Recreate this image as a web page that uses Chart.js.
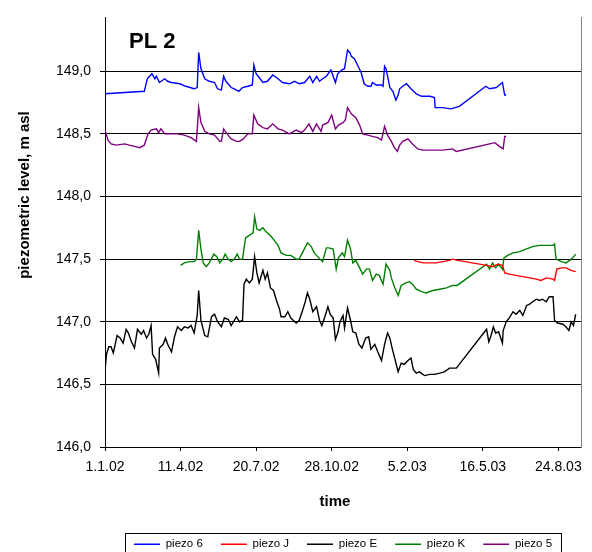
<!DOCTYPE html>
<html>
<head>
<meta charset="utf-8">
<script src="https://cdn.jsdelivr.net/npm/chart.js@4.4.1/dist/chart.umd.min.js"></script>
<style>
  html, body { margin: 0; padding: 0; background: #fff; overflow: hidden; }
  canvas { display: block; }
</style>
</head>
<body>
<canvas id="myChart" width="592" height="552"></canvas>
<script>
// days counted from 1.1.02
const tickLabels = ['1.1.02', '11.4.02', '20.7.02', '28.10.02', '5.2.03', '16.5.03', '24.8.03'];

const days6 = [0, 52, 56, 62, 66, 68, 72, 79, 83, 88, 99, 107, 118, 122, 124, 127, 132, 138, 145, 149, 154, 157, 160, 167, 171, 177, 182, 189, 195, 197, 200, 204, 209, 215, 222, 229, 235, 244, 251, 257, 264, 271, 275, 280, 284, 288, 293, 299, 305, 308, 313, 317, 321, 324, 326, 330, 335, 339, 343, 348, 352, 354, 359, 366, 368, 370, 372, 377, 381, 385, 388, 390, 394, 399, 405, 412, 419, 430, 436, 437, 447, 458, 469, 504, 509, 518, 522, 526, 529, 531];
const piezo6 = [148.82, 148.84, 148.94, 148.98, 148.94, 148.96, 148.91, 148.94, 148.92, 148.91, 148.90, 148.88, 148.86, 148.87, 149.15, 149.02, 148.94, 148.92, 148.91, 148.86, 148.85, 148.96, 148.92, 148.87, 148.86, 148.84, 148.87, 148.88, 148.89, 149.05, 148.98, 148.95, 148.91, 148.92, 148.97, 148.94, 148.91, 148.90, 148.92, 148.90, 148.91, 148.96, 148.91, 148.96, 148.92, 148.94, 148.96, 149.01, 148.91, 148.98, 149.01, 149.02, 149.17, 149.15, 149.12, 149.10, 149.04, 148.99, 148.90, 148.88, 148.88, 148.91, 148.89, 148.89, 148.88, 149.04, 149.02, 148.87, 148.84, 148.77, 148.81, 148.86, 148.88, 148.90, 148.86, 148.82, 148.80, 148.80, 148.79, 148.71, 148.71, 148.70, 148.72, 148.88, 148.86, 148.87, 148.89, 148.91, 148.81, 148.81];

const daysJ = [409, 414, 421, 430, 438, 447, 456, 460, 467, 505, 513, 520, 526, 529, 535, 544, 553, 562, 571, 577, 584, 593, 595, 598, 604, 610, 617, 623];
const piezoJ = [147.49, 147.48, 147.47, 147.47, 147.47, 147.48, 147.49, 147.50, 147.49, 147.45, 147.44, 147.46, 147.45, 147.39, 147.38, 147.37, 147.36, 147.35, 147.34, 147.33, 147.35, 147.34, 147.33, 147.42, 147.43, 147.43, 147.41, 147.40];

const daysE = [0, 2, 5, 8, 11, 16, 20, 24, 28, 31, 35, 39, 43, 48, 51, 55, 58, 61, 63, 67, 71, 72, 77, 80, 83, 88, 92, 96, 101, 105, 110, 114, 118, 122, 124, 127, 132, 136, 141, 145, 149, 154, 158, 163, 167, 174, 178, 182, 184, 187, 191, 195, 198, 201, 204, 209, 212, 215, 219, 223, 227, 231, 233, 238, 242, 246, 253, 257, 262, 265, 268, 271, 275, 280, 284, 287, 291, 295, 298, 302, 305, 308, 311, 315, 317, 321, 325, 328, 332, 336, 340, 345, 349, 352, 357, 361, 366, 370, 374, 377, 380, 383, 388, 392, 396, 401, 405, 408, 412, 416, 423, 430, 436, 443, 449, 456, 465, 505, 508, 511, 514, 517, 521, 526, 527, 531, 535, 540, 544, 549, 553, 558, 562, 566, 571, 575, 579, 584, 588, 593, 595, 599, 606, 610, 614, 617, 620, 623];
const piezoE = [146.61, 146.74, 146.80, 146.80, 146.75, 146.89, 146.87, 146.83, 146.94, 146.91, 146.84, 146.79, 146.94, 146.90, 146.93, 146.87, 146.90, 146.97, 146.74, 146.70, 146.59, 146.79, 146.82, 146.87, 146.82, 146.76, 146.88, 146.96, 146.93, 146.96, 146.95, 146.97, 146.91, 147.05, 147.25, 147.01, 146.89, 146.88, 147.04, 147.06, 147.00, 146.96, 147.03, 147.02, 146.97, 147.04, 147.00, 147.01, 147.30, 147.34, 147.31, 147.34, 147.52, 147.39, 147.31, 147.41, 147.34, 147.39, 147.27, 147.25, 147.17, 147.10, 147.04, 147.04, 147.08, 147.03, 146.99, 147.01, 147.10, 147.16, 147.23, 147.18, 147.08, 147.12, 147.01, 146.97, 147.04, 147.12, 147.06, 147.03, 146.86, 146.91, 147.00, 147.05, 146.95, 147.11, 147.01, 146.92, 146.91, 146.82, 146.79, 146.87, 146.88, 146.78, 146.82, 146.76, 146.69, 146.82, 146.91, 146.87, 146.79, 146.72, 146.60, 146.67, 146.66, 146.69, 146.71, 146.62, 146.59, 146.60, 146.57, 146.58, 146.58, 146.59, 146.60, 146.63, 146.63, 146.94, 146.84, 146.89, 146.96, 146.91, 146.92, 146.83, 146.93, 147.00, 147.03, 147.08, 147.06, 147.09, 147.05, 147.13, 147.14, 147.16, 147.18, 147.17, 147.18, 147.16, 147.20, 147.20, 147.01, 146.99, 146.98, 146.96, 146.93, 147.00, 146.97, 147.06];

const daysK = [100, 105, 112, 118, 121, 124, 127, 130, 134, 138, 144, 148, 152, 157, 159, 163, 167, 171, 175, 178, 182, 186, 191, 196, 198, 201, 205, 209, 213, 220, 224, 229, 233, 240, 246, 253, 257, 262, 268, 273, 277, 283, 288, 293, 296, 302, 306, 309, 314, 317, 321, 325, 328, 332, 337, 341, 346, 350, 354, 359, 363, 368, 372, 377, 379, 383, 388, 392, 398, 403, 407, 412, 419, 425, 434, 443, 452, 460, 466, 505, 509, 513, 517, 521, 526, 528, 533, 540, 549, 557, 566, 575, 584, 593, 595, 597, 604, 610, 615, 619, 623];
const piezoK = [147.45, 147.47, 147.48, 147.48, 147.50, 147.73, 147.58, 147.47, 147.44, 147.47, 147.54, 147.52, 147.47, 147.51, 147.54, 147.50, 147.48, 147.50, 147.54, 147.50, 147.50, 147.67, 147.69, 147.71, 147.84, 147.74, 147.73, 147.75, 147.72, 147.68, 147.65, 147.61, 147.55, 147.53, 147.53, 147.50, 147.50, 147.56, 147.63, 147.60, 147.55, 147.51, 147.48, 147.59, 147.59, 147.58, 147.42, 147.51, 147.55, 147.52, 147.65, 147.58, 147.47, 147.49, 147.43, 147.38, 147.42, 147.42, 147.33, 147.38, 147.37, 147.30, 147.46, 147.41, 147.35, 147.28, 147.21, 147.29, 147.31, 147.32, 147.30, 147.26, 147.24, 147.23, 147.25, 147.26, 147.27, 147.29, 147.29, 147.46, 147.42, 147.47, 147.43, 147.46, 147.42, 147.51, 147.53, 147.55, 147.56, 147.58, 147.60, 147.61, 147.61, 147.61, 147.62, 147.50, 147.48, 147.47, 147.49, 147.51, 147.54];

const days5 = [0, 4, 8, 15, 26, 32, 39, 46, 52, 57, 61, 68, 71, 74, 79, 85, 96, 105, 114, 121, 124, 127, 132, 138, 145, 152, 154, 157, 163, 167, 174, 178, 183, 189, 195, 197, 202, 209, 215, 222, 229, 235, 244, 253, 260, 264, 270, 275, 280, 286, 288, 295, 300, 305, 309, 315, 318, 321, 326, 332, 337, 341, 348, 354, 361, 366, 370, 374, 379, 383, 387, 390, 394, 401, 407, 414, 421, 434, 447, 460, 465, 509, 516, 522, 527, 529, 531];
const piezo5 = [148.53, 148.45, 148.42, 148.41, 148.42, 148.41, 148.40, 148.39, 148.41, 148.50, 148.53, 148.54, 148.51, 148.54, 148.50, 148.50, 148.50, 148.49, 148.47, 148.44, 148.71, 148.59, 148.52, 148.50, 148.49, 148.44, 148.44, 148.54, 148.49, 148.46, 148.44, 148.44, 148.46, 148.50, 148.50, 148.65, 148.58, 148.55, 148.54, 148.58, 148.54, 148.53, 148.50, 148.53, 148.51, 148.53, 148.58, 148.52, 148.58, 148.52, 148.57, 148.59, 148.65, 148.54, 148.57, 148.59, 148.61, 148.71, 148.66, 148.63, 148.57, 148.50, 148.49, 148.48, 148.47, 148.45, 148.56, 148.49, 148.44, 148.39, 148.36, 148.41, 148.44, 148.46, 148.42, 148.38, 148.37, 148.37, 148.37, 148.38, 148.36, 148.42, 148.43, 148.40, 148.38, 148.48, 148.48];

const toPoints = (days, values) => days.map((d, i) => ({ x: d, y: values[i] }));

Chart.defaults.font.family = '"Liberation Sans", Arial, sans-serif';
Chart.defaults.color = '#000';

// title, axis titles and the box round the legend
const extraText = {
  id: 'extraText',
  afterDraw(chart) {
    const { ctx, chartArea } = chart;
    ctx.save();
    ctx.fillStyle = '#000';
    ctx.textBaseline = 'alphabetic';

    ctx.font = 'bold 22px "Liberation Sans", Arial, sans-serif';
    ctx.textAlign = 'left';
    ctx.fillText('PL 2', chartArea.left + 24, chartArea.top + 31);

    ctx.font = 'bold 15px "Liberation Sans", Arial, sans-serif';
    ctx.textAlign = 'center';
    ctx.fillText('time', 335, 506);

    ctx.translate(29, 195);
    ctx.rotate(-Math.PI / 2);
    ctx.fillText('piezometric level, m asl', 0, 0);
    ctx.restore();

    const boxes = chart.legend.legendHitBoxes;
    if (boxes && boxes.length) {
      const first = boxes[0];
      const last = boxes[boxes.length - 1];
      const left = first.left - 9;
      const right = last.left + last.width + 9;
      ctx.save();
      ctx.strokeStyle = '#000';
      ctx.lineWidth = 1;
      ctx.strokeRect(Math.round(left) + 0.5, Math.round(first.top - 5.5) + 0.5, Math.round(right - left), 40);
      ctx.restore();
    }
  }
};

const ctx = document.getElementById('myChart').getContext('2d');

new Chart(ctx, {
  type: 'line',
  data: {
    datasets: [{
      label: 'piezo 6',
      data: toPoints(days6, piezo6),
      borderColor: '#0000ff',
      backgroundColor: '#0000ff'
    }, {
      label: 'piezo J',
      data: toPoints(daysJ, piezoJ),
      borderColor: '#ff0000',
      backgroundColor: '#ff0000'
    }, {
      label: 'piezo E',
      data: toPoints(daysE, piezoE),
      borderColor: '#000000',
      backgroundColor: '#000000'
    }, {
      label: 'piezo K',
      data: toPoints(daysK, piezoK),
      borderColor: '#008000',
      backgroundColor: '#008000'
    }, {
      label: 'piezo 5',
      data: toPoints(days5, piezo5),
      borderColor: '#800080',
      backgroundColor: '#800080'
    }]
  },
  options: {
    responsive: false,
    animation: false,
    devicePixelRatio: 1,
    elements: {
      line: { borderWidth: 1.4, tension: 0, fill: false },
      point: { radius: 0, hoverRadius: 0 }
    },
    layout: { padding: { top: 11, left: 0, right: 0, bottom: -8 } },
    scales: {
      x: {
        type: 'linear',
        min: 0,
        max: 630,
        afterFit: (scale) => { scale.height = 73.5; },
        ticks: {
          stepSize: 100,
          includeBounds: false,
          autoSkip: false,
          padding: 8,
          maxRotation: 0,
          font: { size: 14 },
          callback: (v) => tickLabels[v / 100]
        },
        grid: {
          drawOnChartArea: false,
          drawTicks: true,
          tickLength: 4,
          color: '#000'
        },
        border: { color: '#000', width: 1 }
      },
      y: {
        position: 'left',
        min: 146,
        max: 149.43,
        afterFit: (scale) => { scale.width = 105; },
        ticks: {
          stepSize: 0.5,
          includeBounds: false,
          padding: 9,
          font: { size: 14 },
          callback: (v) => v.toFixed(1).replace('.', ',')
        },
        grid: {
          color: '#000',
          lineWidth: 1,
          drawTicks: true,
          tickLength: 5
        },
        border: { color: '#000', width: 1 }
      },
      y2: {
        position: 'right',
        display: true,
        afterFit: (scale) => { scale.width = 11; },
        ticks: { display: false },
        grid: { drawOnChartArea: false, drawTicks: false },
        border: { color: '#808080', width: 1 }
      }
    },
    plugins: {
      legend: {
        position: 'bottom',
        fullSize: false,
        labels: {
          boxWidth: 26,
          boxHeight: 0,
          padding: 18,
          color: '#000',
          font: { size: 11.5 }
        }
      },
      tooltip: { enabled: false }
    }
  },
  plugins: [extraText]
});
</script>
</body>
</html>
